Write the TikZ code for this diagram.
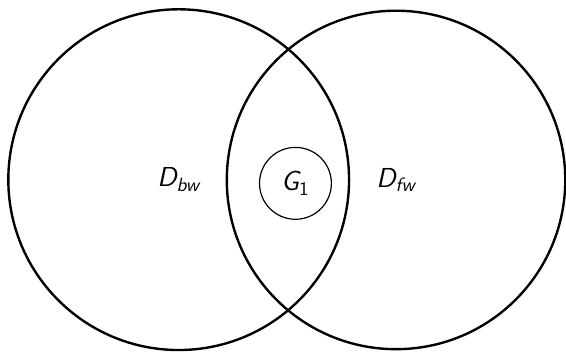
\documentclass[tikz,border=0pt]{standalone}
\usepackage{amsmath}
\usetikzlibrary{positioning}
\newcommand{\sfvar}[1]{\textsf{\itshape #1}}

\begin{document}
\begin{tikzpicture}[
        region/.style={circle, draw, line width=1.2pt, minimum size=6cm, inner sep=0pt, font=\fontsize{13.8}{16}\selectfont},
        core/.style={circle, draw, line width=0.6pt, minimum size=1.27cm, inner sep=0pt, font=\fontsize{13.8}{16}\selectfont}
    ]
        \useasboundingbox (0,0) rectangle (10,6.219);

        % Search regions
        \node (bw) [region, minimum size=6.02cm] at (3.157,3.045) {$\sfvar{D}_{\sfvar{bw}}$};
        \node (fw) [region, minimum size=5.98cm] at (6.997,3.04) {$\sfvar{D}_{\sfvar{fw}}$};

        % Goal
        \node (g1) [core] at (5.22,2.98) {$\sfvar{G}_{\textsf{1}}$};
    \end{tikzpicture}
\end{document}
